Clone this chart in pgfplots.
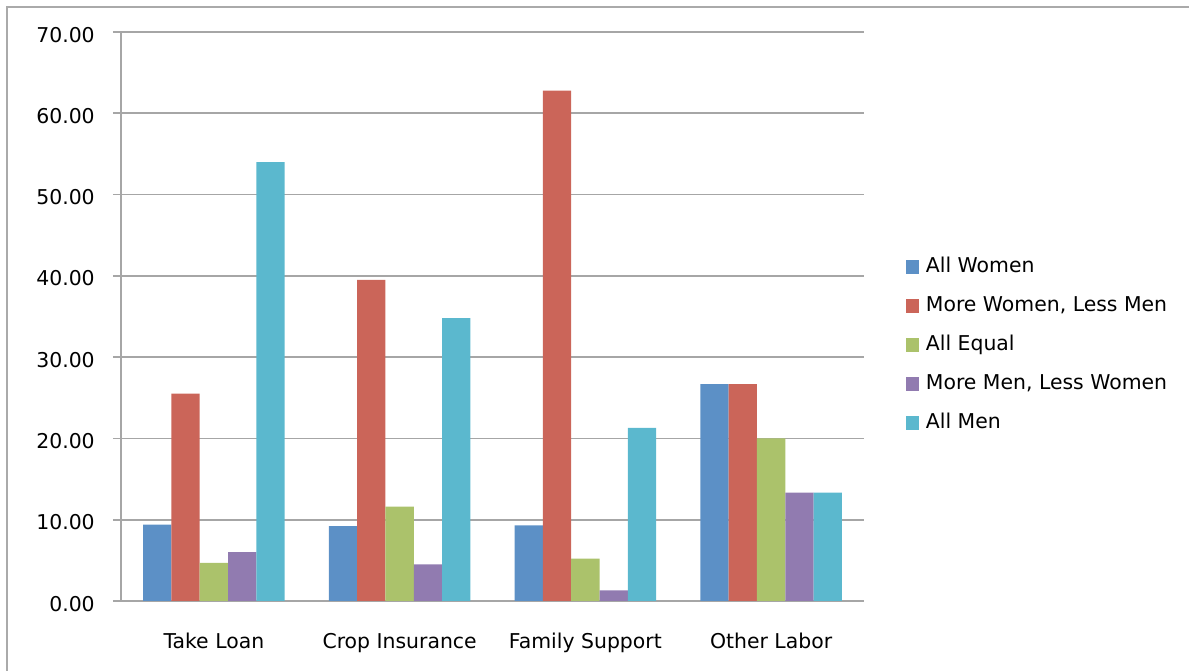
\documentclass[border=0pt]{standalone}
\usepackage{fontspec}
\setmainfont{DejaVu Sans}
\usepackage{pgfplots}
\pgfplotsset{compat=1.18}
\definecolor{cblue}{RGB}{92,144,198}
\definecolor{cred}{RGB}{203,101,89}
\definecolor{cgreen}{RGB}{171,194,107}
\definecolor{cpurple}{RGB}{145,123,176}
\definecolor{ccyan}{RGB}{91,184,206}
\definecolor{gridgray}{RGB}{166,166,166}
\definecolor{framegray}{RGB}{170,170,170}
\begin{document}
\begin{tikzpicture}
\useasboundingbox (0,0) rectangle (891.75pt,503.25pt);
\draw[line width=1.5pt, framegray] (5.25pt,0pt) -- (5.25pt,498pt) -- (891.75pt,498pt);
\begin{axis}[
  at={(90.75pt,52.5pt)}, anchor=south west,
  scale only axis, width=557.25pt, height=426.75pt,
  xmin=-0.5, xmax=3.5, ymin=0, ymax=70,
  ybar=0pt, bar width=21.2pt,
  axis x line*=bottom, axis y line*=left,
  axis line style={-, draw=gridgray, line width=1.3pt},
  ymajorgrids, major grid style={gridgray, line width=1.3pt},
  tick align=outside, major tick length=6pt,
  tick style={gridgray, line width=1.3pt},
  ytick={0,10,...,70},
  xtick={0,1,2,3},
  xticklabels={Take Loan, Crop Insurance, Family Support, Other Labor},
  x tick style={draw=none},
  extra x ticks={-0.5,0.5,1.5,2.5,3.5},
  extra x tick labels={},
  extra x tick style={tick style={draw=gridgray, line width=1.3pt}},
  every tick label/.append style={font=\fontsize{15.3pt}{18pt}\selectfont, text=black},
  xticklabel style={anchor=base, inner sep=0pt, yshift=-29.5pt},
  yticklabel style={anchor=east, inner sep=0pt, xshift=-13.5pt, yshift=-2pt,
    /pgf/number format/.cd, fixed, fixed zerofill, precision=2, assume math mode=true},
  legend style={at={(axis description cs:1.0565,0.4499)}, anchor=west,
    draw=none, fill=none, inner sep=0pt,
    font=\fontsize{15.3pt}{18pt}\selectfont,
    nodes={inner sep=0pt, text height=11pt, text depth=3.5pt},
    row sep=14.75pt,
    /tikz/every odd column/.append style={column sep=5pt}},
  legend cell align=left,
  legend image code/.code={\fill[#1] (0pt,-4.9pt) rectangle (9.75pt,4.9pt);},
]
\addplot[fill=cblue, draw=none] coordinates {(0,9.4) (1,9.2) (2,9.3) (3,26.67)};
\addplot[fill=cred, draw=none] coordinates {(0,25.5) (1,39.5) (2,62.8) (3,26.67)};
\addplot[fill=cgreen, draw=none] coordinates {(0,4.7) (1,11.6) (2,5.2) (3,20.0)};
\addplot[fill=cpurple, draw=none] coordinates {(0,6.0) (1,4.5) (2,1.3) (3,13.33)};
\addplot[fill=ccyan, draw=none] coordinates {(0,54.0) (1,34.8) (2,21.3) (3,13.33)};
\legend{All Women, {More Women, Less Men}, All Equal, {More Men, Less Women}, All Men}
\end{axis}
\end{tikzpicture}
\end{document}
